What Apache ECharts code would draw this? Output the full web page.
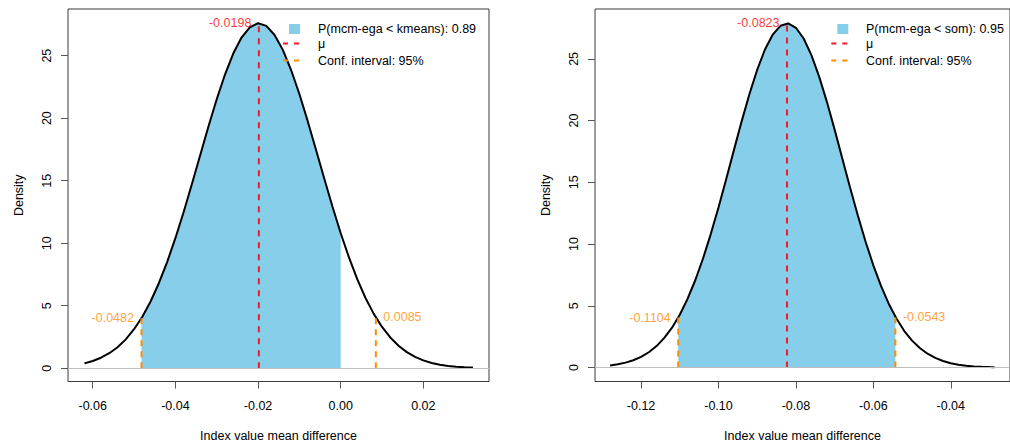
<!DOCTYPE html>
<html>
<head>
<meta charset="utf-8">
<script src="https://cdn.jsdelivr.net/npm/echarts@6/dist/echarts.min.js"></script>
<style>
  html, body { margin: 0; padding: 0; background: #ffffff; }
  #chart { width: 1010px; height: 447px; }
</style>
</head>
<body>
<div id="chart"></div>
<script>
// ---- Posterior density of the index value mean difference: mcm-ega vs kmeans ----
const kmeansX = [
  -0.062, -0.060, -0.058, -0.056, -0.054, -0.052, -0.050, -0.048, -0.046, -0.044,
  -0.042, -0.040, -0.038, -0.036, -0.034, -0.032, -0.030, -0.028, -0.026, -0.024,
  -0.022, -0.020, -0.018, -0.016, -0.014, -0.012, -0.010, -0.008, -0.006, -0.004,
  -0.002, 0, 0.002, 0.004, 0.006, 0.008, 0.010, 0.012, 0.014, 0.016,
  0.018, 0.020, 0.022, 0.024, 0.026, 0.028, 0.030, 0.032
];
const kmeansDensity = [
  0.39, 0.58, 0.84, 1.20, 1.68, 2.31, 3.12, 4.12, 5.34, 6.80,
  8.49, 10.40, 12.50, 14.73, 17.03, 19.33, 21.51, 23.49, 25.17, 26.45,
  27.27, 27.59, 27.38, 26.65, 25.46, 23.85, 21.93, 19.78, 17.50, 15.19,
  12.93, 10.80, 8.86, 7.12, 5.62, 4.35, 3.30, 2.46, 1.80, 1.29,
  0.91, 0.63, 0.42, 0.28, 0.18, 0.12, 0.07, 0.05
];
const kmeansMean = -0.0198;
const kmeansPeak = 27.59;
const kmeansCI = [-0.0482, 0.0085];
const kmeansCIDensity = [4.01, 4.07];
const kmeansProb = 0.89;

// ---- Posterior density of the index value mean difference: mcm-ega vs som ----
const somX = [
  -0.128, -0.126, -0.124, -0.122, -0.120, -0.118, -0.116, -0.114, -0.112, -0.110,
  -0.108, -0.106, -0.104, -0.102, -0.100, -0.098, -0.096, -0.094, -0.092, -0.090,
  -0.088, -0.086, -0.084, -0.082, -0.080, -0.078, -0.076, -0.074, -0.072, -0.070,
  -0.068, -0.066, -0.064, -0.062, -0.060, -0.058, -0.056, -0.054, -0.052, -0.050,
  -0.048, -0.046, -0.044, -0.042, -0.040, -0.038, -0.036, -0.034, -0.032, -0.030,
  -0.0287
];
const somDensity = [
  0.17, 0.26, 0.40, 0.59, 0.87, 1.24, 1.74, 2.40, 3.23, 4.28,
  5.56, 7.07, 8.83, 10.81, 12.97, 15.27, 17.63, 19.96, 22.16, 24.12,
  25.76, 26.96, 27.68, 27.87, 27.52, 26.65, 25.30, 23.56, 21.52, 19.27,
  16.92, 14.57, 12.31, 10.19, 8.28, 6.59, 5.15, 3.95, 2.96, 2.18,
  1.58, 1.12, 0.78, 0.53, 0.35, 0.23, 0.15, 0.09, 0.06, 0.04,
  0.03
];
const somMean = -0.0823;
const somPeak = 27.88;
const somCI = [-0.1104, -0.0543];
const somCIDensity = [4.05, 4.11];
const somProb = 0.95;

// ---- Tick labels ----
const kmeansXTicks = [-0.06, -0.04, -0.02, 0.00, 0.02];
const somXTicks = [-0.12, -0.10, -0.08, -0.06, -0.04];
const densityTicks = [0, 5, 10, 15, 20, 25];

const xTitle = 'Index value mean difference';
const yTitle = 'Density';
const ciText = 'Conf. interval: 95%';
const muText = '\u03bc';

// ---- Styling ----
const FONT = '"Liberation Sans", Arial, Helvetica, sans-serif';
const FS = 12.5;
const SKY = '#87CEEB';
const RED = '#ee1c24';
const ORANGE = '#ff8c00';
const FRAME = '#3a3a3a';

const panels = [
  {
    other: 'kmeans', x: kmeansX, d: kmeansDensity, mean: kmeansMean, peak: kmeansPeak,
    ci: kmeansCI, ciD: kmeansCIDensity, prob: kmeansProb, ticks: kmeansXTicks,
    grid: { left: 68, top: 9, width: 421, height: 375 },
    xRange: [-0.06598, 0.03588], yRange: [-1.06, 28.73],
    legendIconRight: 300, legendTextLeft: 318
  },
  {
    other: 'som', x: somX, d: somDensity, mean: somMean, peak: somPeak,
    ci: somCI, ciD: somCIDensity, prob: somProb, ticks: somXTicks,
    grid: { left: 595, top: 9, width: 422.4, height: 375 },
    xRange: [-0.1319, -0.0247], yRange: [-1.13, 29.04],
    legendIconRight: 848.3, legendTextLeft: 866
  }
];

const grids = [], xAxes = [], yAxes = [], series = [], graphics = [];

panels.forEach((p, i) => {
  grids.push(Object.assign({ show: true, borderColor: FRAME, borderWidth: 1, backgroundColor: 'transparent', containLabel: false }, p.grid));

  xAxes.push({
    type: 'value', gridIndex: i, min: p.xRange[0], max: p.xRange[1], position: 'bottom',
    name: xTitle, nameLocation: 'middle', nameGap: 47.5,
    nameTextStyle: { fontFamily: FONT, fontSize: FS, color: '#000' },
    axisLine: { show: false, onZero: false },
    splitLine: { show: false },
    axisTick: { show: true, inside: false, length: 7, customValues: p.ticks, lineStyle: { color: '#555', width: 1 } },
    axisLabel: { show: true, margin: 18, customValues: p.ticks, fontFamily: FONT, fontSize: FS, color: '#000',
      formatter: v => v.toFixed(2) }
  });

  yAxes.push({
    type: 'value', gridIndex: i, min: p.yRange[0], max: p.yRange[1], position: 'left',
    name: yTitle, nameLocation: 'middle', nameGap: 43, nameRotate: 90,
    nameTextStyle: { fontFamily: FONT, fontSize: FS, color: '#000' },
    axisLine: { show: false, onZero: false },
    splitLine: { show: false },
    axisTick: { show: true, inside: false, length: 7, customValues: densityTicks, lineStyle: { color: '#555', width: 1 } },
    axisLabel: { show: true, margin: 15, rotate: 90, customValues: densityTicks, fontFamily: FONT, fontSize: FS, color: '#000',
      formatter: v => String(v) }
  });

  const pts = p.x.map((v, k) => [v, p.d[k]]);

  // shaded part: inside the interval and below zero
  const lo = p.ci[0];
  const hi = Math.min(p.ci[1], 0);
  const hiD = hi === p.ci[1] ? p.ciD[1] : p.d[p.x.indexOf(hi)];
  const fill = [[lo, p.ciD[0]]].concat(pts.filter(q => q[0] > lo && q[0] < hi), [[hi, hiD]]);

  const common = { xAxisIndex: i, yAxisIndex: i, silent: true, animation: false };

  series.push(Object.assign({
    type: 'line', data: fill, symbol: 'none', z: 1,
    lineStyle: { width: 0 }, areaStyle: { color: SKY, opacity: 1, origin: 0 }
  }, common));

  series.push(Object.assign({
    type: 'line', data: [], z: 2,
    markLine: { silent: true, symbol: ['none', 'none'], label: { show: false }, animation: false,
      lineStyle: { color: '#bebebe', width: 1, type: 'solid' }, data: [{ yAxis: 0 }] }
  }, common));

  series.push(Object.assign({
    type: 'line', data: pts, symbol: 'none', z: 3,
    lineStyle: { color: '#000', width: 2 }
  }, common));

  series.push(Object.assign({
    type: 'line', data: [[p.mean, 0], [p.mean, p.peak]], symbol: 'none', z: 4,
    lineStyle: { color: RED, width: 2, type: [6, 6] }
  }, common));

  p.ci.forEach((c, k) => {
    series.push(Object.assign({
      type: 'line', data: [[c, 0], [c, p.ciD[k]]], symbol: 'none', z: 4,
      lineStyle: { color: ORANGE, width: 2, type: [6, 5] }
    }, common));
  });

  const lbl = (color, pos) => ({ show: true, position: pos, distance: 7, color: color,
    fontFamily: FONT, fontSize: FS, formatter: q => q.value[0].toFixed(4) });
  series.push(Object.assign({
    type: 'scatter', symbol: 'circle', symbolSize: 1, z: 5,
    itemStyle: { color: 'rgba(0,0,0,0)' },
    data: [
      { value: [p.mean, p.peak], label: lbl('#ff0000', 'left') },
      { value: [p.ci[0], p.ciD[0]], label: lbl(ORANGE, 'left') },
      { value: [p.ci[1], p.ciD[1]], label: lbl(ORANGE, 'right') }
    ]
  }, common));

  // legend (top right of each panel)
  const r = p.legendIconRight;
  graphics.push({ type: 'rect', shape: { x: r - 11, y: 24, width: 11, height: 10 }, style: { fill: SKY }, z: 10 });
  graphics.push({ type: 'line', shape: { x1: r - 17, y1: 43.5, x2: r, y2: 43.5 }, style: { stroke: RED, lineWidth: 2, lineDash: [5, 6] }, z: 10 });
  graphics.push({ type: 'line', shape: { x1: r - 17, y1: 60.5, x2: r, y2: 60.5 }, style: { stroke: ORANGE, lineWidth: 2, lineDash: [5, 6] }, z: 10 });
  const rows = [
    ['P(mcm-ega < ' + p.other + '): ' + p.prob.toFixed(2), 29],
    [muText, 44],
    [ciText, 61]
  ];
  rows.forEach(([t, y]) => {
    graphics.push({ type: 'text', x: p.legendTextLeft, y: y, z: 10,
      style: { text: t, fill: '#000', font: FS + 'px ' + FONT, textAlign: 'left', textVerticalAlign: 'middle' } });
  });
});

const chart = echarts.init(document.getElementById('chart'), null, { renderer: 'svg', width: 1010, height: 447 });
chart.setOption({
  backgroundColor: '#ffffff',
  animation: false,
  textStyle: { fontFamily: FONT },
  grid: grids,
  xAxis: xAxes,
  yAxis: yAxes,
  series: series,
  graphic: graphics
});
</script>
</body>
</html>
